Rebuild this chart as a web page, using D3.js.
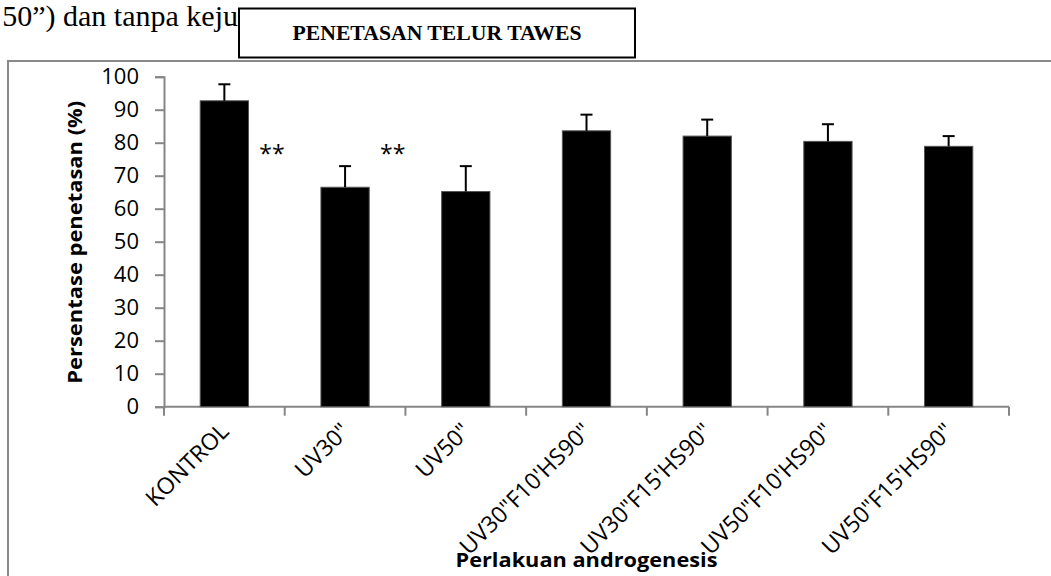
<!DOCTYPE html>
<html>
<head>
<meta charset="utf-8">
<script src="https://cdn.jsdelivr.net/npm/d3@7"></script>
<style>
  body { margin: 0; background: #fff; }
  svg { display: block; }
</style>
</head>
<body>
<svg id="chart" width="1051" height="576"></svg>
<script>
// data
var categories = ["KONTROL", "UV30\"", "UV50\"", "UV30\"F10'HS90\"", "UV30\"F15'HS90\"", "UV50\"F10'HS90\"", "UV50\"F15'HS90\""];
var hatchRate = [92.7, 66.5, 65.2, 83.6, 82.0, 80.4, 78.9];
var stdError = [5.0, 6.4, 7.7, 4.9, 5.0, 5.2, 3.1];
var yTicks = [0, 10, 20, 30, 40, 50, 60, 70, 80, 90, 100];
// "**" marks: placed after the named category, at a y value
var markAfter = ["KONTROL", "UV30\""];
var markValue = [78, 78];
var markText = ["**", "**"];

var svg = d3.select("#chart");
var axisColor = "#868686";
var sans = "'Open Sans', sans-serif";
var serif = "'Liberation Serif', 'Times New Roman', serif";

// document text around the embedded chart
svg.append("text")
    .attr("x", 238)
    .attr("y", 26)
    .attr("text-anchor", "end")
    .style("font-family", serif)
    .style("font-size", "30px")
    .text("50\u201d) dan tanpa keju");

// chart frame (runs past the page edge)
svg.append("rect")
    .attr("x", 8)
    .attr("y", 61)
    .attr("width", 1100)
    .attr("height", 600)
    .attr("fill", "#fff")
    .attr("stroke", "#898989")
    .attr("stroke-width", 2);

// title box
svg.append("rect")
    .attr("x", 239)
    .attr("y", 8.5)
    .attr("width", 396)
    .attr("height", 49)
    .attr("fill", "#fff")
    .attr("stroke", "#000")
    .attr("stroke-width", 2);

svg.append("text")
    .attr("x", 437)
    .attr("y", 39.5)
    .attr("text-anchor", "middle")
    .attr("textLength", 289)
    .attr("lengthAdjust", "spacingAndGlyphs")
    .style("font-family", serif)
    .style("font-weight", "bold")
    .style("font-size", "22px")
    .text("PENETASAN TELUR TAWES");

var plotLeft = 164, plotRight = 1009, plotTop = 76.7, plotBottom = 406.7;

var x = d3.scaleBand()
        .domain(categories)
        .range([plotLeft, plotRight])
        .paddingInner(0.6)
        .paddingOuter(0.3);

var y = d3.scaleLinear()
        .domain([0, 100])
        .range([plotBottom, plotTop]);

// y axis
var gy = svg.append("g")
        .attr("transform", "translate(" + plotLeft + ",0)")
        .call(d3.axisLeft(y).tickValues(yTicks).tickSize(9).tickPadding(16));
gy.select(".domain").attr("stroke", axisColor).attr("stroke-width", 2);
gy.selectAll(".tick line").attr("stroke", axisColor).attr("stroke-width", 2);
gy.selectAll(".tick text")
        .attr("fill", "#000")
        .style("font-family", sans)
        .style("font-size", "22px");

// x axis: line plus ticks at band boundaries
var gx = svg.append("g")
        .attr("transform", "translate(0," + plotBottom + ")");
gx.append("line")
        .attr("x1", plotLeft).attr("x2", plotRight)
        .attr("stroke", axisColor).attr("stroke-width", 2);
var step = x.step();
var bounds = d3.range(categories.length + 1).map(function (i) {
    return x.range()[0] + i * step;
});
gx.selectAll(".bt")
        .data(bounds)
        .enter().append("line")
        .attr("class", "bt")
        .attr("x1", function (d) { return d; })
        .attr("x2", function (d) { return d; })
        .attr("y1", 0).attr("y2", 9)
        .attr("stroke", axisColor).attr("stroke-width", 2);

gx.selectAll(".lab")
        .data(categories)
        .enter().append("text")
        .attr("class", "lab")
        .attr("text-anchor", "end")
        .attr("transform", function (d) {
            return "translate(" + (x(d) + x.bandwidth() / 2 + 6) + ",26) rotate(-45)";
        })
        .style("font-family", sans)
        .style("font-size", "23px")
        .text(function (d) { return d; });

// bars
svg.selectAll(".bar")
        .data(categories)
        .enter().append("rect")
        .attr("class", "bar")
        .attr("x", function (d) { return x(d); })
        .attr("width", x.bandwidth())
        .attr("y", function (d, i) { return y(hatchRate[i]); })
        .attr("height", function (d, i) { return y(0) - y(hatchRate[i]); })
        .attr("fill", "#000")
        .attr("stroke", "#555")
        .attr("stroke-width", 1);

// error bars (upper only)
var eb = svg.selectAll(".err")
        .data(categories)
        .enter().append("g")
        .attr("class", "err")
        .attr("transform", function (d) { return "translate(" + (x(d) + x.bandwidth() / 2) + ",0)"; });
eb.append("line")
        .attr("y1", function (d, i) { return y(hatchRate[i]); })
        .attr("y2", function (d, i) { return y(hatchRate[i] + stdError[i]); })
        .attr("stroke", "#000").attr("stroke-width", 2);
eb.append("line")
        .attr("x1", -6).attr("x2", 6)
        .attr("y1", function (d, i) { return y(hatchRate[i] + stdError[i]); })
        .attr("y2", function (d, i) { return y(hatchRate[i] + stdError[i]); })
        .attr("stroke", "#000").attr("stroke-width", 2);

// significance marks
svg.selectAll(".mark")
        .data(markAfter)
        .enter().append("text")
        .attr("class", "mark")
        .attr("text-anchor", "end")
        .attr("x", function (d) { return x(d) + x.bandwidth() + step * x.paddingInner() / 2; })
        .attr("y", function (d, i) { return y(markValue[i]); })
        .attr("dy", "0.55em")
        .style("font-family", sans)
        .style("font-size", "23px")
        .text(function (d, i) { return markText[i]; });

// axis titles
svg.append("text")
        .attr("transform", "translate(82," + ((plotTop + plotBottom) / 2 + 0.5) + ") rotate(-90)")
        .attr("text-anchor", "middle")
        .attr("textLength", 283)
        .attr("lengthAdjust", "spacingAndGlyphs")
        .style("font-family", sans)
        .style("font-weight", "bold")
        .style("font-size", "20px")
        .text("Persentase penetasan (%)");

svg.append("text")
        .attr("x", (plotLeft + plotRight) / 2)
        .attr("y", 566.5)
        .attr("text-anchor", "middle")
        .attr("textLength", 262)
        .attr("lengthAdjust", "spacingAndGlyphs")
        .style("font-family", sans)
        .style("font-weight", "bold")
        .style("font-size", "20px")
        .text("Perlakuan androgenesis");
</script>
</body>
</html>
